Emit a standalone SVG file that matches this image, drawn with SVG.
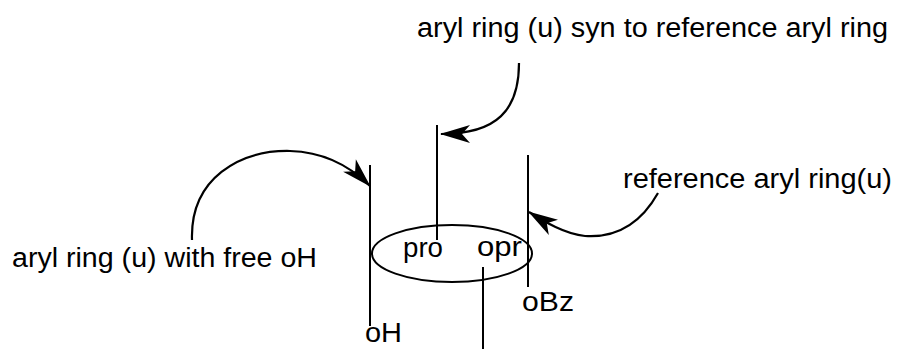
<svg xmlns="http://www.w3.org/2000/svg" width="897" height="349" viewBox="0 0 897 349">
  <style>
    .lbl { font-family: "Liberation Sans", Arial, sans-serif; font-size: 27px; fill: #000; }
    .ln { stroke: #000; stroke-width: 2; fill: none; }
    .arr { stroke: #000; stroke-width: 2.2; fill: none; marker-end: url(#head); }
  </style>
  <defs>
    <marker id="head" markerUnits="userSpaceOnUse" markerWidth="30" markerHeight="20" viewBox="0 0 30 20" refX="29" refY="10" orient="auto">
      <path d="M30,10 L0,1 L8,10 L0,19 Z" fill="#000"/>
    </marker>
  </defs>
  <rect width="897" height="349" fill="#fff"/>

  <g id="ring-system">
    <ellipse cx="452" cy="253.5" rx="80" ry="28.5" class="ln"/>
    <line x1="370" y1="165" x2="370" y2="326" class="ln"/>
    <line x1="437" y1="125" x2="437" y2="240" class="ln"/>
    <line x1="528" y1="155" x2="528" y2="287" class="ln"/>
    <line x1="483" y1="267" x2="483" y2="349" class="ln"/>
  </g>

  <g id="label-syn">
    <text class="lbl" x="417" y="37" textLength="471" lengthAdjust="spacingAndGlyphs">aryl ring (u) syn to reference aryl ring</text>
  </g>
  <g id="label-free-oh">
    <text class="lbl" x="12" y="267" textLength="305" lengthAdjust="spacingAndGlyphs">aryl ring (u) with free oH</text>
  </g>
  <g id="label-reference">
    <text class="lbl" x="623" y="188" textLength="269" lengthAdjust="spacingAndGlyphs">reference aryl ring(u)</text>
  </g>
  <g id="label-pro">
    <text class="lbl" x="403" y="257" textLength="40" lengthAdjust="spacingAndGlyphs">pro</text>
  </g>
  <g id="label-opr">
    <text class="lbl" x="477" y="256" textLength="45" lengthAdjust="spacingAndGlyphs">opr</text>
  </g>
  <g id="label-obz">
    <text class="lbl" x="522" y="311" textLength="52" lengthAdjust="spacingAndGlyphs">oBz</text>
  </g>
  <g id="label-oh">
    <text class="lbl" x="365" y="342" textLength="37" lengthAdjust="spacingAndGlyphs">oH</text>
  </g>

  <g id="connectors">
    <path class="arr" d="M519,63 C519,110 497,134 441,134"/>
    <path class="arr" d="M192,240 C190,178 240,150 290,151 C325,152 350,166 370,186"/>
    <path class="arr" d="M658,193 C640,225 615,238 585,236 C565,234 545,222 529,212"/>
  </g>
</svg>
